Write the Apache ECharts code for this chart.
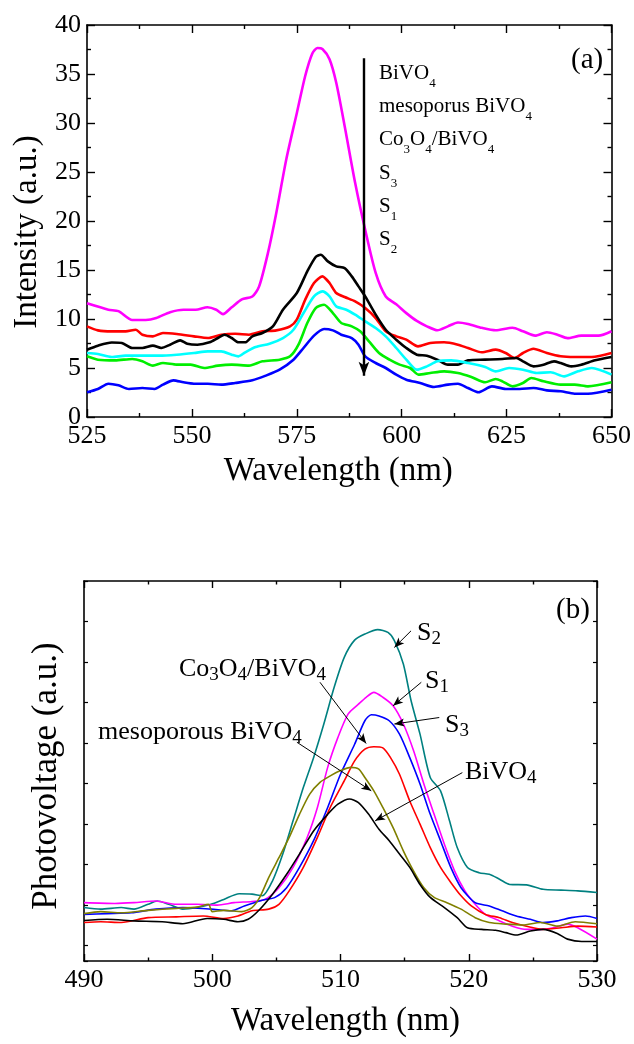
<!DOCTYPE html>
<html><head><meta charset="utf-8">
<script src="https://cdn.jsdelivr.net/npm/echarts@6/dist/echarts.min.js"></script>
<style>html,body{margin:0;padding:0;background:#fff}#c{width:634px;height:1044px}</style>
</head><body><div id="c"></div>
<script>
// ---------- Panel (a): PL spectra ----------
const aXTicks = [525, 650, 25];
const aYTicks = [0, 40, 5];
const aBiVO4 = [[525,11.6],[530.1,10.95],[532.5,10.8],[535.8,9.9],[539,9.9],[541.5,10.1],[544.8,10.7],[548,10.95],[550.9,10.95],[553.7,11.2],[555.8,10.95],[557.4,10.5],[559.5,11.2],[561.9,12.0],[564.4,12.3],[566,13.3],[568.1,16.7],[570.1,20.8],[572.5,26.3],[575,31.0],[577,34.8],[578.7,37.1],[579.9,37.65],[581.1,37.55],[582.8,36.5],[584.4,34.1],[586.4,29.7],[588.9,23.9],[591.3,19.1],[593.8,14.7],[596.2,12.3],[598.7,11.5],[601.1,10.6],[603.6,9.8],[606,9.25],[608.5,8.85],[611,9.25],[613.4,9.65],[615.8,9.5],[619.1,9.1],[622.4,8.85],[626.4,9.1],[628.9,8.75],[631.8,8.3],[634.6,8.65],[637.1,8.4],[639.5,8.05],[642.8,8.3],[646.9,8.3],[650,8.75]];
const aMeso = [[525,6.87],[527.6,7.28],[530.9,7.6],[533.3,7.55],[535.8,7.04],[538.2,7.04],[540.7,7.28],[542.7,7.04],[544.8,7.38],[547.2,7.82],[548.9,7.48],[551.3,7.38],[554.2,7.62],[556.2,8.06],[557.8,8.4],[559.5,8.06],[561.1,7.62],[562.7,7.62],[564.4,8.23],[566.8,8.57],[569.3,9.25],[571.7,10.95],[575,12.65],[577.5,14.86],[579.5,16.33],[580.7,16.56],[582.4,15.88],[584.4,15.37],[586.4,15.2],[588.1,14.35],[589.7,13.33],[591.3,12.31],[593.8,10.44],[596.2,8.9],[598.7,7.89],[601.1,7.04],[603.6,6.36],[606,6.26],[608.5,5.85],[611,5.34],[613.4,5.34],[615.8,5.78],[619.9,5.85],[624,5.92],[627.3,6.02],[628.9,5.68],[631.4,5.17],[633.8,5.34],[636.3,5.68],[637.9,5.51],[640.4,5.17],[642.8,5.34],[646.1,5.78],[650,6.12]];
const aCo = [[525,9.25],[527.6,8.84],[530.9,8.74],[534.2,8.74],[536.6,8.9],[538.2,8.4],[540.7,8.23],[543.1,8.57],[546.4,8.47],[550.5,8.23],[553.8,8.06],[557,8.4],[560.3,8.5],[563.6,8.4],[566.8,8.74],[570.1,8.84],[573.4,9.25],[575,9.93],[577,11.97],[579.1,13.67],[581.1,14.35],[582.8,13.67],[584.4,12.65],[586.4,12.24],[588.9,11.8],[591.3,11.12],[593.8,10.1],[596.2,8.74],[598.7,8.23],[601.1,7.89],[603.9,7.21],[606.8,7.55],[610.1,7.62],[613.4,7.38],[615.8,7.04],[619.1,6.6],[622.4,6.87],[624.8,6.53],[626.9,6.02],[628.9,6.53],[631.4,6.97],[634.6,6.53],[637.9,6.19],[641.2,6.12],[645.3,6.12],[650,6.53]];
const aS3 = [[525,6.53],[527.6,6.43],[530.9,6.12],[534.2,6.26],[538.2,6.26],[542.3,6.26],[546.4,6.36],[550.5,6.53],[553.8,6.7],[557,6.7],[559.5,6.36],[561.1,6.19],[562.7,6.6],[565.2,7.14],[568.5,7.48],[571.7,8.06],[574.2,8.9],[576.6,10.61],[579.1,12.31],[581.1,12.82],[582.8,12.31],[584.4,11.29],[586.8,10.95],[588.9,10.44],[591.3,9.76],[593.8,9.08],[596.2,8.23],[598.7,7.04],[601.1,5.85],[603.6,4.83],[606,5.17],[608.5,5.68],[611.8,5.78],[615.8,5.51],[619.9,5.1],[622.4,4.66],[625.6,5.0],[628.9,4.83],[632.2,4.49],[635.5,4.56],[638.7,4.15],[642,4.66],[645.3,5.0],[650,4.32]];
const aS1 = [[525,6.19],[527.6,5.85],[531.7,5.78],[535.8,5.92],[538.2,5.68],[540.7,5.24],[543.1,5.51],[546.4,5.34],[549.7,5.34],[552.9,5.0],[556.2,5.24],[559.5,5.34],[563.6,5.24],[566.8,5.68],[570.9,5.85],[573.4,6.19],[575.4,7.38],[577.5,9.59],[579.5,11.12],[581.5,11.46],[583.6,10.61],[585.6,9.59],[588.1,9.25],[590.1,8.74],[592.2,7.72],[594.6,6.53],[597.1,5.85],[599.5,5.34],[602,5.0],[604,4.32],[606.8,4.49],[610.1,4.66],[613.4,4.49],[616.6,4.08],[619.9,3.54],[622.4,3.88],[624,3.64],[626.4,3.13],[628.9,3.47],[630.9,3.98],[633.8,3.64],[637.9,3.3],[641.2,3.3],[644.4,3.13],[650,3.54]];
const aS2 = [[525,2.52],[527.6,2.86],[530.1,3.4],[532.5,3.23],[535,2.86],[538.2,2.96],[541.1,2.86],[543.1,3.3],[545.6,3.74],[548,3.54],[550.5,3.4],[553.8,3.4],[557,3.3],[560.3,3.47],[564.4,3.74],[567.6,4.22],[570.9,4.83],[574.2,5.85],[576.6,7.04],[579.1,8.3],[581.5,8.98],[583.6,8.84],[585.6,8.4],[588.1,8.06],[589.7,7.38],[591.3,6.19],[593.8,5.51],[596.2,5.0],[598.7,4.32],[601.1,3.81],[604.4,3.47],[607.7,3.06],[611,3.3],[613.4,3.4],[615.8,2.96],[618.3,2.52],[621.5,3.13],[624.8,2.86],[628.1,2.86],[631.4,2.96],[634.6,2.72],[637.9,2.62],[641.2,2.38],[644.4,2.38],[650,2.79]];
const aArrow = [[591, 36.6], [591, 4.2]];

// ---------- Panel (b): SPV spectra ----------
const bXTicks = [490, 530, 10];
const bYRange = [0, 9.38, 1];
const bS2 = [[490,1.32],[491.3,1.28],[492.9,1.32],[493.9,1.28],[495,1.40],[495.7,1.48],[496.6,1.40],[497.7,1.28],[498.8,1.32],[499.9,1.40],[500.9,1.52],[502.1,1.66],[503.1,1.65],[503.9,1.61],[504.7,1.98],[505.5,2.64],[506.3,3.46],[507.1,4.28],[507.9,5.02],[508.7,5.85],[509.5,6.75],[510.3,7.5],[511.1,7.92],[511.9,8.07],[512.9,8.18],[513.7,8.11],[514.2,7.91],[514.9,7.33],[515.5,6.43],[516.2,5.60],[517,4.53],[517.8,4.2],[518.5,3.46],[519.1,2.8],[519.9,2.31],[520.8,2.18],[521.6,2.14],[522.4,2.02],[523.2,1.89],[524.5,1.88],[525.8,1.77],[527.2,1.75],[528.5,1.73],[530,1.69]];
const bS1 = [[490,1.44],[492.4,1.42],[493.9,1.44],[495.6,1.48],[497.2,1.40],[498.8,1.40],[500.4,1.38],[501.7,1.44],[503.1,1.47],[504.1,1.52],[505.2,1.81],[506.3,2.31],[507.4,3.05],[508.2,3.79],[509,4.78],[509.8,5.52],[510.6,6.1],[511.4,6.34],[512,6.51],[512.6,6.63],[513.3,6.51],[514.1,6.3],[514.9,5.85],[515.7,5.19],[516.5,4.37],[517.3,3.62],[518.1,2.88],[518.9,2.22],[519.7,1.73],[520.5,1.40],[521.3,1.15],[522.4,0.99],[523.4,0.86],[524.5,0.78],[525.6,0.78],[526.6,0.82],[527.7,0.91],[528.5,0.82],[530,0.54]];
const bS3 = [[490,1.15],[491.8,1.17],[493.7,1.19],[495.6,1.28],[497.7,1.32],[499.9,1.28],[501.5,1.24],[502.5,1.36],[503.9,1.5],[504.9,1.57],[505.8,1.81],[506.8,2.31],[507.9,2.97],[509,3.79],[510,4.61],[511.1,5.35],[511.9,5.93],[512.4,6.08],[513,6.05],[513.8,5.93],[514.6,5.6],[515.4,5.02],[516.2,4.37],[517,3.62],[517.8,2.97],[518.6,2.31],[519.4,1.81],[520.5,1.44],[521.6,1.36],[522.6,1.24],[523.7,1.11],[524.8,1.03],[525.8,0.95],[526.9,0.99],[528,1.07],[529.1,1.11],[530,1.05]];
const bCo = [[490,0.95],[491.3,0.97],[492.9,0.95],[495,1.07],[497.2,1.09],[499.3,1.11],[500.9,1.05],[502,1.11],[503.1,1.24],[504.4,1.28],[505.2,1.40],[506,1.73],[507.1,2.31],[508.2,3.05],[509.2,3.79],[510.3,4.45],[511.1,4.94],[511.9,5.23],[512.6,5.29],[513.3,5.26],[513.9,5.02],[514.6,4.61],[515.4,3.95],[516.2,3.38],[517,2.8],[517.8,2.31],[518.6,1.94],[519.4,1.61],[520.2,1.36],[521.3,1.15],[522.4,1.07],[523.4,0.95],[524.5,0.86],[525.8,0.78],[527.2,0.82],[528.5,0.86],[530,0.84]];
const bMeso = [[490,1.17],[491.3,1.22],[492.9,1.19],[495,1.25],[497.2,1.30],[498.8,1.33],[499.7,1.40],[500,1.22],[500.9,1.25],[502.3,1.22],[503.1,1.32],[503.7,1.57],[504.4,2.06],[505.2,2.55],[506,3.05],[506.8,3.62],[507.6,4.12],[508.4,4.41],[509.2,4.57],[510,4.70],[510.8,4.78],[511.4,4.74],[511.9,4.53],[512.6,4.2],[513.3,3.79],[514.1,3.29],[514.9,2.72],[515.7,2.22],[516.5,1.81],[517.3,1.57],[518.3,1.44],[519.4,1.28],[520.5,1.07],[521.6,0.95],[522.9,0.91],[524.2,0.89],[525.6,0.95],[526.9,0.86],[528.3,0.97],[530,0.92]];
const bBiVO4 = [[490,1.0],[491.8,1.03],[493.9,0.99],[496.1,0.97],[497.7,0.92],[499.6,1.05],[500.9,1.03],[502,0.97],[502.8,1.03],[503.6,1.24],[504.7,1.65],[505.8,2.14],[506.8,2.64],[507.9,3.21],[509,3.62],[509.8,3.87],[510.7,4.0],[511.4,3.91],[512.2,3.62],[513,3.25],[513.8,2.97],[514.6,2.64],[515.4,2.31],[516.2,1.89],[517,1.57],[518.1,1.32],[519.1,1.07],[519.9,0.82],[521,0.78],[522.1,0.76],[522.9,0.7],[523.7,0.64],[524.8,0.74],[525.8,0.78],[526.9,0.68],[527.7,0.54],[528.8,0.48],[530,0.48]];
const bArrows = [
  [[515.5,8.15],[514.2,7.74]],
  [[516.3,6.88],[514.1,6.30]],
  [[517.7,6.01],[514.2,5.85]],
  [[508.4,6.88],[512.0,5.37]],
  [[506.6,5.40],[512.4,4.20]],
  [[519.5,4.65],[512.7,3.46]]
];

const FF = "'Liberation Serif','Times New Roman',serif";
const chart = echarts.init(document.getElementById('c'));

function xAx(grid, r, pos, labels, tickLen, name, nameGap, namePad) {
  return {
    type: 'value', gridIndex: grid, position: pos, min: r[0], max: r[1], interval: r[2],
    axisLine: {show: true, onZero: false, lineStyle: {color: '#000', width: 1.6}},
    axisTick: {show: true, inside: true, length: tickLen, lineStyle: {color: '#000', width: 1.4}},
    minorTick: {show: true, splitNumber: 2, length: tickLen / 2, lineStyle: {color: '#000', width: 1.4}},
    splitLine: {show: false}, minorSplitLine: {show: false},
    axisLabel: {show: labels, color: '#000', fontSize: 26, fontFamily: FF, margin: 6},
    name: name || '', nameLocation: 'middle', nameGap: nameGap || 0,
    nameTextStyle: {color: '#000', fontSize: 33, fontFamily: FF, padding: namePad || 0}
  };
}

function lineS(data, color, xi, yi, w) {
  return {type: 'line', data: data, xAxisIndex: xi, yAxisIndex: yi, showSymbol: false,
    smooth: 0.25, lineStyle: {color: color, width: w}, itemStyle: {color: color}, animation: false, silent: true};
}

const supA = {n: {fontSize: 21, lineHeight: 33.2, fontFamily: FF, color: '#000'},
              s: {fontSize: 13, lineHeight: 33.2, fontFamily: FF, color: '#000', padding: [20, 0, 0, 0]}};
const supB = {n: {fontSize: 26, lineHeight: 30, fontFamily: FF, color: '#000'},
              s: {fontSize: 19, lineHeight: 30, fontFamily: FF, color: '#000', padding: [12, 0, 0, 0]}};

function richTxt(left, top, text, rich) {
  return {type: 'text', left: left, top: top, silent: true, style: {text: text, rich: rich, fill: '#000'}};
}

const aSeries = [
  lineS(aBiVO4, '#FF00FF', 0, 0, 2.6),
  lineS(aCo, '#FF0000', 0, 0, 2.6),
  lineS(aMeso, '#000000', 0, 0, 2.6),
  lineS(aS3, '#00FFFF', 0, 0, 2.6),
  lineS(aS1, '#00EE00', 0, 0, 2.6),
  lineS(aS2, '#0000FF', 0, 0, 2.6)
];
aSeries[0].markLine = {silent: true, symbol: ['none', 'arrow'], symbolSize: [8, 14], animation: false,
  lineStyle: {color: '#000', width: 2.4, type: 'solid'}, label: {show: false},
  data: [[{coord: aArrow[0]}, {coord: aArrow[1]}]]};

const bSeries = [
  lineS(bS2, '#008080', 2, 2, 1.6),
  lineS(bS1, '#FF00FF', 2, 2, 1.6),
  lineS(bS3, '#0000FF', 2, 2, 1.6),
  lineS(bCo, '#FF0000', 2, 2, 1.6),
  lineS(bMeso, '#808000', 2, 2, 1.6),
  lineS(bBiVO4, '#000000', 2, 2, 1.6)
];
bSeries[0].markLine = {silent: true, symbol: ['none', 'arrow'], symbolSize: [6, 10], animation: false,
  lineStyle: {color: '#000', width: 1, type: 'solid'}, label: {show: false},
  data: bArrows.map(a => [{coord: a[0]}, {coord: a[1]}])};

const option = {
  backgroundColor: '#fff',
  animation: false,
  grid: [
    {left: 87, top: 25, width: 526, height: 392, containLabel: false},
    {left: 84, top: 581, width: 513, height: 380, containLabel: false}
  ],
  xAxis: [
    xAx(0, aXTicks, 'bottom', true, 8, 'Wavelength (nm)', 38, [0, 22, 0, 0]),
    xAx(0, aXTicks, 'top', false, 8),
    xAx(1, bXTicks, 'bottom', true, 7, 'Wavelength (nm)', 44, [0, 0, 0, 10]),
    xAx(1, bXTicks, 'top', false, 7)
  ],
  yAxis: [
    xAx(0, aYTicks, 'left', true, 8, 'Intensity (a.u.)', 43, [0, 22, 0, 0]),
    xAx(0, aYTicks, 'right', false, 8),
    {type: 'value', gridIndex: 1, position: 'left', min: bYRange[0], max: bYRange[1],
      axisLine: {show: true, lineStyle: {color: '#000', width: 1.6}}, axisTick: {show: false},
      axisLabel: {show: false}, splitLine: {show: false},
      name: 'Photovoltage (a.u.)', nameLocation: 'middle', nameGap: 20,
      nameTextStyle: {color: '#000', fontSize: 35, fontFamily: FF, padding: [0, 10, 0, 0]}},
    {type: 'value', gridIndex: 1, position: 'left', inverse: true, min: bYRange[0], max: bYRange[1], interval: bYRange[2],
      axisLine: {show: false}, axisTick: {show: true, inside: true, length: 4, lineStyle: {color: '#000', width: 1.2}},
      axisLabel: {show: false}, splitLine: {show: false}},
    {type: 'value', gridIndex: 1, position: 'right', inverse: true, min: bYRange[0], max: bYRange[1], interval: bYRange[2],
      axisLine: {show: true, lineStyle: {color: '#000', width: 1.6}}, axisTick: {show: true, inside: true, length: 4, lineStyle: {color: '#000', width: 1.2}},
      axisLabel: {show: false}, splitLine: {show: false}}
  ],
  series: aSeries.concat(bSeries),
  graphic: [
    richTxt(379, 57, '{n|BiVO}{s|4}\n{n|mesoporus BiVO}{s|4}\n{n|Co}{s|3}{n|O}{s|4}{n|/BiVO}{s|4}\n{n|S}{s|3}\n{n|S}{s|1}\n{n|S}{s|2}', supA),
    {type: 'text', left: 571, top: 46, silent: true, style: {text: '(a)', fill: '#000', font: '29px ' + FF}},
    {type: 'text', left: 556, top: 596, silent: true, style: {text: '(b)', fill: '#000', font: '29px ' + FF}},
    richTxt(417, 618, '{n|S}{s|2}', supB),
    richTxt(425, 666, '{n|S}{s|1}', supB),
    richTxt(445, 710, '{n|S}{s|3}', supB),
    richTxt(179, 654, '{n|Co}{s|3}{n|O}{s|4}{n|/BiVO}{s|4}', supB),
    richTxt(98, 717, '{n|mesoporous BiVO}{s|4}', supB),
    richTxt(465, 757, '{n|BiVO}{s|4}', supB)
  ]
};
chart.setOption(option);
</script></body></html>
